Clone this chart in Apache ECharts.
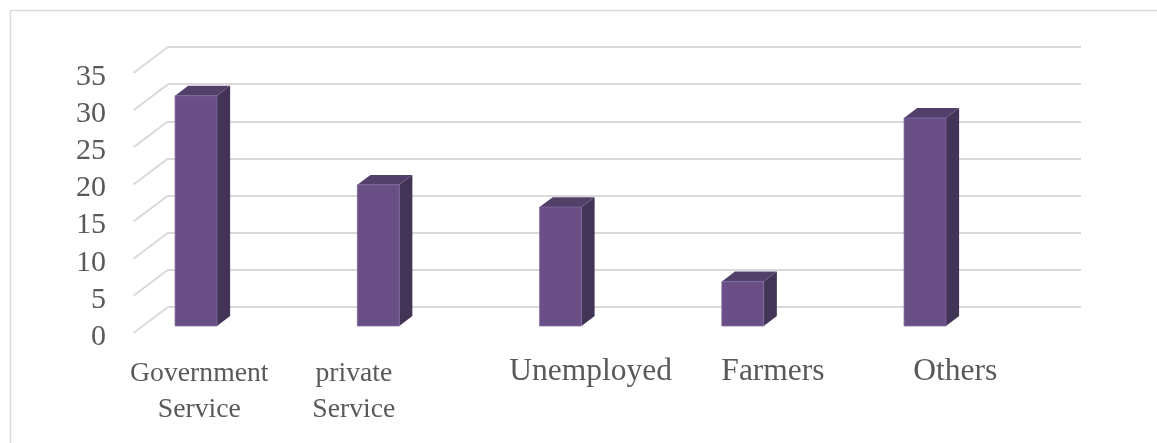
<!DOCTYPE html>
<html>
<head>
<meta charset="utf-8">
<title>Occupation</title>
<script src="https://cdn.jsdelivr.net/npm/echarts@6/dist/echarts.min.js"></script>
<style>
  html, body { margin: 0; padding: 0; background: #ffffff; }
  #chart { width: 1157px; height: 443px; }
</style>
</head>
<body>
<div id="chart"></div>
<script>
// Occupation categories and their counts
const categories = ['Government\nService', 'private\nService', 'Unemployed', 'Farmers', 'Others'];
const values = [31, 19, 16, 6, 28];
// Value axis ticks
const yTicks = [0, 5, 10, 15, 20, 25, 30, 35];

// Pseudo-3D projection: screen offset from the front edge of the floor to the back wall
const DEPTH = [34.5, -26];
const FRONT_D = 0.27;   // depth of a column's front face
const BACK_D = 0.65;    // depth of a column's back face
const BAR_RATIO = 0.23; // column width as a share of the category band

const TEXT_COLOR = '#595959';
const GRID_COLOR = '#d9d9d9';
const FACE_FRONT = '#6a4f86';
const FACE_TOP = '#52406b';
const FACE_SIDE = '#423456';

const WRAP_FONT = 27.7;
const SINGLE_FONT = 31.5;
const FONT_FAMILY = '"Liberation Serif", "Times New Roman", serif';

const measureCtx = document.createElement('canvas').getContext('2d');
function textWidth(str, size) {
  measureCtx.font = size + 'px ' + FONT_FAMILY;
  return Math.max.apply(null, str.split('\n').map(s => measureCtx.measureText(s).width));
}

const chart = echarts.init(document.getElementById('chart'), null, { renderer: 'canvas' });

const option = {
  animation: false,
  backgroundColor: '#ffffff',
  graphic: [{
    type: 'polyline',
    silent: true,
    shape: { points: [[10.5, 443], [10.5, 10.5], [1157, 10.5]] },
    style: { stroke: GRID_COLOR, lineWidth: 1.5, fill: null }
  }],
  grid: [
    // back wall
    { left: 168, right: 76, top: 47, bottom: 136 },
    // front edge of the floor
    { left: 95.6, right: 150.15, top: 73, bottom: 110 }
  ],
  xAxis: [
    { gridIndex: 0, type: 'value', min: 0, max: 1, show: false },
    {
      gridIndex: 1, type: 'category', data: categories,
      axisLine: { show: false }, axisTick: { show: false }, axisLabel: { show: false }
    }
  ],
  yAxis: [
    {
      gridIndex: 0, type: 'value', min: 0, max: 35, interval: 5,
      axisLine: { show: false }, axisTick: { show: false }, axisLabel: { show: false },
      splitLine: { show: true, lineStyle: { color: GRID_COLOR, width: 1.9 } }
    },
    {
      gridIndex: 1, type: 'value', min: 0, max: 35, interval: 5,
      axisLine: { show: false }, axisTick: { show: false }, splitLine: { show: false },
      axisLabel: {
        margin: -10.5,
        color: TEXT_COLOR,
        fontFamily: FONT_FAMILY,
        fontSize: 30,
        verticalAlign: 'top',
        lineHeight: 8
      }
    }
  ],
  series: [
    {
      // slanted grid lines on the left side wall
      type: 'custom',
      xAxisIndex: 0, yAxisIndex: 0,
      silent: true,
      data: yTicks.map(t => [0, t]),
      encode: { x: 0, y: 1 },
      renderItem: function (params, api) {
        const p = api.coord([api.value(0), api.value(1)]);
        return {
          type: 'line',
          shape: { x1: p[0], y1: p[1], x2: p[0] - DEPTH[0], y2: p[1] - DEPTH[1] },
          style: { stroke: GRID_COLOR, lineWidth: 1.9 }
        };
      }
    },
    {
      // columns with their category labels
      type: 'custom',
      xAxisIndex: 1, yAxisIndex: 1,
      silent: true,
      data: values.map((v, i) => [i, v]),
      encode: { x: 0, y: 1 },
      renderItem: function (params, api) {
        const idx = api.value(0);
        const val = api.value(1);
        const base = api.coord([idx, 0]);
        const top = api.coord([idx, val]);
        const band = api.size([1, 0])[0];
        const w = band * BAR_RATIO;
        const fx = DEPTH[0] * FRONT_D, fy = DEPTH[1] * FRONT_D;
        const dx = DEPTH[0] * (BACK_D - FRONT_D), dy = DEPTH[1] * (BACK_D - FRONT_D);
        const xl = base[0] + fx - w / 2;
        const xr = xl + w;
        const yb = base[1] + fy;
        const yt = top[1] + fy;

        // label sits on the back-wall band
        const label = categories[idx];
        const backCenter = base[0] + DEPTH[0];
        let text;
        if (label.indexOf('\n') >= 0) {
          const tw = textWidth(label, WRAP_FONT);
          const left = backCenter - band / 2;
          text = {
            type: 'text',
            style: {
              text: label, x: left + tw / 2, y: 355.6,
              align: 'center', verticalAlign: 'top',
              font: WRAP_FONT + 'px ' + FONT_FAMILY,
              lineHeight: 36, fill: TEXT_COLOR
            }
          };
        } else {
          text = {
            type: 'text',
            style: {
              text: label, x: backCenter + 5, y: 371.5,
              align: 'center', verticalAlign: 'middle',
              font: SINGLE_FONT + 'px ' + FONT_FAMILY,
              fill: TEXT_COLOR
            }
          };
        }

        return {
          type: 'group',
          children: [
            {
              type: 'polygon',
              shape: { points: [[xr, yb], [xr, yt], [xr + dx, yt + dy], [xr + dx, yb + dy]] },
              style: { fill: FACE_SIDE }
            },
            {
              type: 'polygon',
              shape: { points: [[xl, yt], [xr, yt], [xr + dx, yt + dy], [xl + dx, yt + dy]] },
              style: { fill: FACE_TOP }
            },
            {
              type: 'rect',
              shape: { x: xl, y: yt, width: w, height: yb - yt },
              style: { fill: FACE_FRONT, stroke: '#7e69a0', lineWidth: 0.8 }
            },
            text
          ]
        };
      }
    }
  ]
};

chart.setOption(option);
</script>
</body>
</html>
